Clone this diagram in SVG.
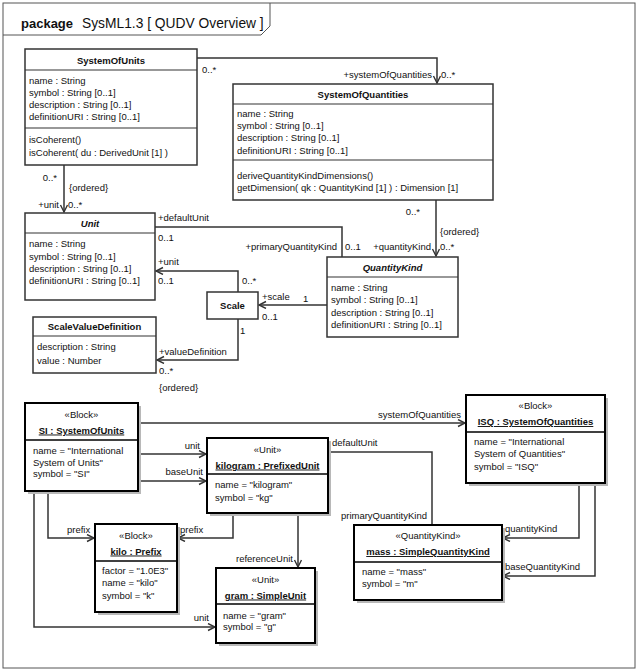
<svg xmlns="http://www.w3.org/2000/svg" width="640" height="671" viewBox="0 0 640 671">
<style>
text{font-family:"Liberation Sans",Arial,sans-serif;font-size:9.5px;fill:#111}
.b{font-weight:bold}
.bi{font-weight:bold;font-style:italic}
.m{text-anchor:middle}
.e{text-anchor:end}
.u{text-decoration:underline}
.box{fill:#fff;stroke:#333;stroke-width:1.5}
.ibox{fill:#fff;stroke:#000;stroke-width:2}
.sh{fill:#b8b8b8;stroke:none}
.sep{stroke:#333;stroke-width:1.2}
.isep{stroke:#000;stroke-width:1.5}
.c{fill:none;stroke:#333;stroke-width:1.5}
.frame{fill:none;stroke:#555;stroke-width:1}
</style>
<defs>
<marker id="arr" markerWidth="10" markerHeight="10" refX="8" refY="4" orient="auto" markerUnits="userSpaceOnUse">
<path d="M1,0.5 L8,4 L1,7.5" fill="none" stroke="#333" stroke-width="1.4"/>
</marker>
</defs>
<rect width="640" height="671" fill="#fff"/>
<g id="frame">
<rect class="frame" x="3" y="3" width="632" height="665"/>
<polyline class="frame" points="3,35 261,35 270,26 270,3"/>
<text x="21" y="28" style="font-size:13px;font-weight:bold">package</text>
<text x="82" y="28" style="font-size:13.8px">SysML1.3 [ QUDV Overview ]</text>
</g>
<g id="connectors">
<path class="c" d="M197,58 H437 V83" marker-end="url(#arr)"/>
<path class="c" d="M64,165 V212" marker-end="url(#arr)"/>
<path class="c" d="M436,200 V256" marker-end="url(#arr)"/>
<path class="c" d="M155,227 H342 V257"/>
<path class="c" d="M238,292 V271 H156" marker-end="url(#arr)"/>
<path class="c" d="M327,305 H259" marker-end="url(#arr)"/>
<path class="c" d="M238,319 V360 H157" marker-end="url(#arr)"/>
<path class="c" d="M138,423 H465" marker-end="url(#arr)"/>
<path class="c" d="M138,454 H206" marker-end="url(#arr)"/>
<path class="c" d="M138,481 H206" marker-end="url(#arr)"/>
<path class="c" d="M48,491 V538 H94" marker-end="url(#arr)"/>
<path class="c" d="M233,513 V538 H178" marker-end="url(#arr)"/>
<path class="c" d="M298,513 V567" marker-end="url(#arr)"/>
<path class="c" d="M34,491 V627 H215" marker-end="url(#arr)"/>
<path class="c" d="M328,452 H432 V525"/>
<path class="c" d="M579,483 V538 H503" marker-end="url(#arr)"/>
<path class="c" d="M595,483 V576 H503" marker-end="url(#arr)"/>
<text x="202" y="72.5">0..*</text>
<text class="e" x="432" y="77.5">+systemOfQuantities</text>
<text x="441" y="77.5">0..*</text>
<text class="e" x="57" y="181">0..*</text>
<text x="69" y="190.5">{ordered}</text>
<text class="e" x="59" y="207.5">+unit</text>
<text x="68" y="207.5">0..*</text>
<text x="158" y="220.5">+defaultUnit</text>
<text x="158" y="240.5">0..1</text>
<text class="e" x="337" y="250">+primaryQuantityKind</text>
<text x="345" y="250">0..1</text>
<text class="e" x="420" y="215">0..*</text>
<text x="440" y="235">{ordered}</text>
<text class="e" x="431" y="250">+quantityKind</text>
<text x="440" y="250">0..*</text>
<text x="158" y="265">+unit</text>
<text x="158" y="284">0..1</text>
<text x="242" y="284">0..*</text>
<text x="262" y="300">+scale</text>
<text x="303" y="302">1</text>
<text x="262" y="320">0..1</text>
<text x="240" y="334">1</text>
<text x="159" y="355">+valueDefinition</text>
<text x="159" y="374">0..*</text>
<text x="159" y="390.5">{ordered}</text>
<text class="e" x="461" y="417.5">systemOfQuantities</text>
<text class="e" x="200" y="448.5">unit</text>
<text class="e" x="203" y="475">baseUnit</text>
<text x="67" y="532.5">prefix</text>
<text x="180" y="532.5">prefix</text>
<text class="e" x="293" y="562">referenceUnit</text>
<text class="e" x="209" y="621">unit</text>
<text x="332" y="445.5">defaultUnit</text>
<text class="e" x="427" y="519">primaryQuantityKind</text>
<text x="505" y="531.5">quantityKind</text>
<text x="505" y="570">baseQuantityKind</text>
</g>
<g id="SystemOfUnits">
<rect class="box" x="25" y="49" width="172" height="116"/>
<line class="sep" x1="25" y1="70" x2="197" y2="70"/>
<line class="sep" x1="25" y1="128" x2="197" y2="128"/>
<text class="b m" x="111" y="63.5">SystemOfUnits</text>
<text x="29" y="83.5">name : String</text>
<text x="29" y="95.8">symbol : String [0..1]</text>
<text x="29" y="108">description : String [0..1]</text>
<text x="29" y="120.3">definitionURI : String [0..1]</text>
<text x="29" y="143">isCoherent()</text>
<text x="29" y="155.5">isCoherent( du : DerivedUnit [1] )</text>
</g>
<g id="SystemOfQuantities">
<rect class="box" x="233" y="84" width="260" height="116"/>
<line class="sep" x1="233" y1="104" x2="493" y2="104"/>
<line class="sep" x1="233" y1="160" x2="493" y2="160"/>
<text class="b m" x="363" y="97.5">SystemOfQuantities</text>
<text x="237" y="117">name : String</text>
<text x="237" y="129">symbol : String [0..1]</text>
<text x="237" y="141">description : String [0..1]</text>
<text x="237" y="153.5">definitionURI : String [0..1]</text>
<text x="237" y="178.5">deriveQuantityKindDimensions()</text>
<text x="237" y="190.5">getDimension( qk : QuantityKind [1] ) : Dimension [1]</text>
</g>
<g id="Unit">
<rect class="box" x="25" y="213" width="130" height="87"/>
<line class="sep" x1="25" y1="233" x2="155" y2="233"/>
<text class="bi m" x="90" y="227">Unit</text>
<text x="29" y="247">name : String</text>
<text x="29" y="259.5">symbol : String [0..1]</text>
<text x="29" y="272">description : String [0..1]</text>
<text x="29" y="284">definitionURI : String [0..1]</text>
</g>
<g id="QuantityKind">
<rect class="box" x="327" y="257" width="131" height="80"/>
<line class="sep" x1="327" y1="277" x2="458" y2="277"/>
<text class="bi m" x="392.5" y="270.5">QuantityKind</text>
<text x="331" y="291">name : String</text>
<text x="331" y="303">symbol : String [0..1]</text>
<text x="331" y="315.5">description : String [0..1]</text>
<text x="331" y="327.5">definitionURI : String [0..1]</text>
</g>
<g id="Scale">
<rect class="box" x="207" y="292" width="51" height="27"/>
<text class="b m" x="232.5" y="308.5">Scale</text>
</g>
<g id="ScaleValueDefinition">
<rect class="box" x="33" y="317" width="123" height="56"/>
<line class="sep" x1="33" y1="336" x2="156" y2="336"/>
<text class="b m" x="94.5" y="330">ScaleValueDefinition</text>
<text x="37" y="350">description : String</text>
<text x="37" y="363.5">value : Number</text>
</g>
<g id="SI">
<rect class="sh" x="28" y="406" width="113" height="88"/>
<rect class="ibox" x="25" y="403" width="113" height="88"/>
<line class="isep" x1="25" y1="440" x2="138" y2="440"/>
<text class="m" x="81.5" y="418">«Block»</text>
<text class="b m u" x="81.5" y="433.5">SI : SystemOfUnits</text>
<text x="33" y="453.5">name = "International</text>
<text x="33" y="465.5">System of Units"</text>
<text x="33" y="477">symbol = "SI"</text>
</g>
<g id="kilogram">
<rect class="sh" x="210" y="441" width="121" height="75"/>
<rect class="ibox" x="207" y="438" width="121" height="75"/>
<line class="isep" x1="207" y1="474" x2="328" y2="474"/>
<text class="m" x="267.5" y="453">«Unit»</text>
<text class="b m u" x="267.5" y="468.5">kilogram : PrefixedUnit</text>
<text x="215" y="488">name = "kilogram"</text>
<text x="215" y="501">symbol = "kg"</text>
</g>
<g id="ISQ">
<rect class="sh" x="469" y="398" width="139" height="88"/>
<rect class="ibox" x="466" y="395" width="139" height="88"/>
<line class="isep" x1="466" y1="432" x2="605" y2="432"/>
<text class="m" x="535.5" y="409">«Block»</text>
<text class="b m u" x="535.5" y="425">ISQ : SystemOfQuantities</text>
<text x="474" y="445">name = "International</text>
<text x="474" y="457">System of Quantities"</text>
<text x="474" y="469.5">symbol = "ISQ"</text>
</g>
<g id="mass">
<rect class="sh" x="357" y="528" width="148" height="75"/>
<rect class="ibox" x="354" y="525" width="148" height="75"/>
<line class="isep" x1="354" y1="562" x2="502" y2="562"/>
<text class="m" x="428" y="539">«QuantityKind»</text>
<text class="b m u" x="428" y="555">mass : SimpleQuantityKind</text>
<text x="362" y="574.5">name = "mass"</text>
<text x="362" y="586.5">symbol = "m"</text>
</g>
<g id="kilo">
<rect class="sh" x="98" y="527" width="82" height="88"/>
<rect class="ibox" x="95" y="524" width="82" height="88"/>
<line class="isep" x1="95" y1="561" x2="177" y2="561"/>
<text class="m" x="136" y="538.5">«Block»</text>
<text class="b m u" x="136" y="554.5">kilo : Prefix</text>
<text x="102" y="574">factor = "1.0E3"</text>
<text x="102" y="586">name = "kilo"</text>
<text x="102" y="599">symbol = "k"</text>
</g>
<g id="gram">
<rect class="sh" x="219" y="571" width="99" height="75"/>
<rect class="ibox" x="216" y="568" width="99" height="75"/>
<line class="isep" x1="216" y1="604" x2="315" y2="604"/>
<text class="m" x="265.5" y="582.5">«Unit»</text>
<text class="b m u" x="265.5" y="598.5">gram : SimpleUnit</text>
<text x="223" y="618.5">name = "gram"</text>
<text x="223" y="630">symbol = "g"</text>
</g>
</svg>
